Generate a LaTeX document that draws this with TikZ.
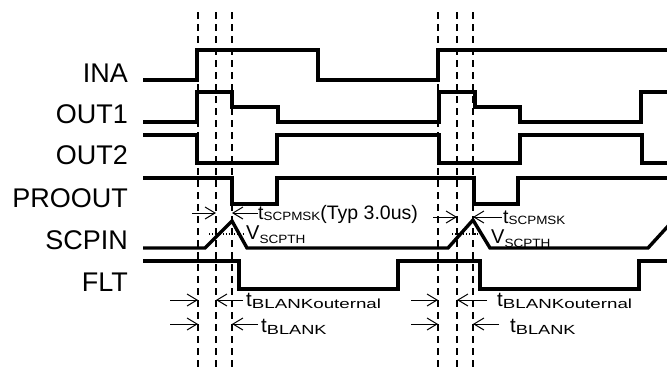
\documentclass[tikz,border=0pt]{standalone}
\usepackage{graphicx}
\usepackage{fontspec}
\setmainfont{Liberation Sans}
\usetikzlibrary{arrows.meta}
\newcommand{\lblfont}{\fontsize{27}{30}\selectfont}
\newcommand{\anfont}{\fontsize{19.5}{22}\selectfont}
\newcommand{\subfont}{\fontsize{12}{14}\selectfont}
\newcommand{\bsubfont}{\fontsize{13.2}{15}\selectfont}
\newcommand{\sbx}[3]{\raisebox{-#1}{\scalebox{#2}[1]{\subfont #3}}}
\newcommand{\bsbx}[3]{\raisebox{-#1}{\scalebox{#2}[1]{\bsubfont #3}}}
\begin{document}
\begin{tikzpicture}[x=1pt,y=-1pt,
  sig/.style={line width=3.4pt,line join=miter},
  guide/.style={line width=1.5pt,dash pattern=on 7pt off 5pt},
  thr/.style={line width=1.1pt,dash pattern=on 1.2pt off 1.6pt},
  dim/.style={line width=1pt,-{Straight Barb[length=10pt,width=12pt,line width=1pt]}},
  lbl/.style={anchor=base east,inner sep=0pt,font=\lblfont},
  ann/.style={anchor=base west,inner sep=0pt,font=\anfont}]
\useasboundingbox (0,0) rectangle (667,367);
% guide lines
\foreach \x/\n in {198/a,216/b,232/c,438/d,457/e,473/f}{
  \coordinate (g\n t) at (\x,12);
  \coordinate (g\n b) at (\x,367);
  \draw[guide] (g\n t) -- (g\n b);
}
% labels
\node[lbl] (lINA) at (128,82) {INA};
\node[lbl] (lOUT1) at (128,123) {OUT1};
\node[lbl] (lOUT2) at (128,164) {OUT2};
\node[lbl] (lPRO) at (128,207) {PROOUT};
\node[lbl] (lSCP) at (128,249) {SCPIN};
\node[lbl] (lFLT) at (128,291) {FLT};
% signals
\draw[sig] (143,80) -- (197,80) -- (197,50) -- (318,50) -- (318,80) -- (438,80) -- (438,50) -- (667,50);
\draw[sig] (143,122) -- (197,122) -- (197,92) -- (232,92) -- (232,107) -- (278,107) -- (278,122) -- (439,122) -- (439,92) -- (475,92) -- (475,107) -- (520,107) -- (520,122) -- (641,122) -- (641,92) -- (667,92);
\draw[sig] (143,135) -- (197,135) -- (197,163) -- (277,163) -- (277,135) -- (439,135) -- (439,163) -- (520,163) -- (520,135) -- (642,135) -- (642,163) -- (667,163);
\draw[sig] (143,178) -- (232,178) -- (232,204) -- (277,204) -- (277,178) -- (474,178) -- (474,204) -- (518,204) -- (518,178) -- (667,178);
\draw[sig] (143,248) -- (205,248) -- (232,221) -- (247,248) -- (448,248) -- (473,220) -- (490,248) -- (648,248) -- (669,225);
\draw[sig] (143,261) -- (239,261) -- (239,289) -- (398,289) -- (398,261) -- (480,261) -- (480,289) -- (639,289) -- (639,261) -- (667,261);
% threshold dotted
\coordinate (th1a) at (209,234); \coordinate (th1b) at (243,234);
\coordinate (th2a) at (452,234); \coordinate (th2b) at (480,234);
\draw[thr] (th1a) -- (th1b);
\draw[thr] (th2a) -- (th2b);
% text annotations
\node[ann] (msk1) at (258,219) {t\sbx{1.5pt}{1.12}{SCPMSK}(Typ 3.0us)};
\node[ann] (msk2) at (503,223) {t\sbx{1.5pt}{1.12}{SCPMSK}};
\node[ann,font=\fontsize{20}{22}\selectfont] (vth1) at (246,239) {V\sbx{4.5pt}{1.13}{SCPTH}};
\node[ann,font=\fontsize{20}{22}\selectfont] (vth2) at (491,243) {V\sbx{4.5pt}{1.13}{SCPTH}};
\node[ann,font=\fontsize{20.5}{22}\selectfont] (bo1) at (246,306) {t\bsbx{2pt}{1.42}{BLANKouternal}};
\node[ann,font=\fontsize{20.5}{22}\selectfont] (bo2) at (497,306) {t\bsbx{2pt}{1.42}{BLANKouternal}};
\node[ann,font=\fontsize{20.5}{22}\selectfont] (bl1) at (261,332) {t\bsbx{2pt}{1.38}{BLANK}};
\node[ann,font=\fontsize{20.5}{22}\selectfont] (bl2) at (510,332) {t\bsbx{2pt}{1.38}{BLANK}};
% dimension arrows
\coordinate (m1a) at (192,213); \coordinate (m1b) at (216,213);
\coordinate (m1c) at (258,213); \coordinate (m1d) at (232,213);
\draw[dim] (m1a) -- (m1b);
\draw[dim] (m1c) -- (m1d);
\coordinate (m2a) at (433,217); \coordinate (m2b) at (457,217);
\coordinate (m2c) at (502,217); \coordinate (m2d) at (473,217);
\draw[dim] (m2a) -- (m2b);
\draw[dim] (m2c) -- (m2d);
\coordinate (o1a) at (170,300); \coordinate (o1b) at (198,300);
\coordinate (o1c) at (243,300); \coordinate (o1d) at (216,300);
\draw[dim] (o1a) -- (o1b);
\draw[dim] (o1c) -- (o1d);
\coordinate (o2a) at (411,300); \coordinate (o2b) at (438,300);
\coordinate (o2c) at (487,300); \coordinate (o2d) at (457,300);
\draw[dim] (o2a) -- (o2b);
\draw[dim] (o2c) -- (o2d);
\coordinate (k1a) at (170,324); \coordinate (k1b) at (198,324);
\coordinate (k1c) at (258,324); \coordinate (k1d) at (232,324);
\draw[dim] (k1a) -- (k1b);
\draw[dim] (k1c) -- (k1d);
\coordinate (k2a) at (411,324); \coordinate (k2b) at (438,324);
\coordinate (k2c) at (499,324); \coordinate (k2d) at (473,324);
\draw[dim] (k2a) -- (k2b);
\draw[dim] (k2c) -- (k2d);
\end{tikzpicture}
\end{document}
